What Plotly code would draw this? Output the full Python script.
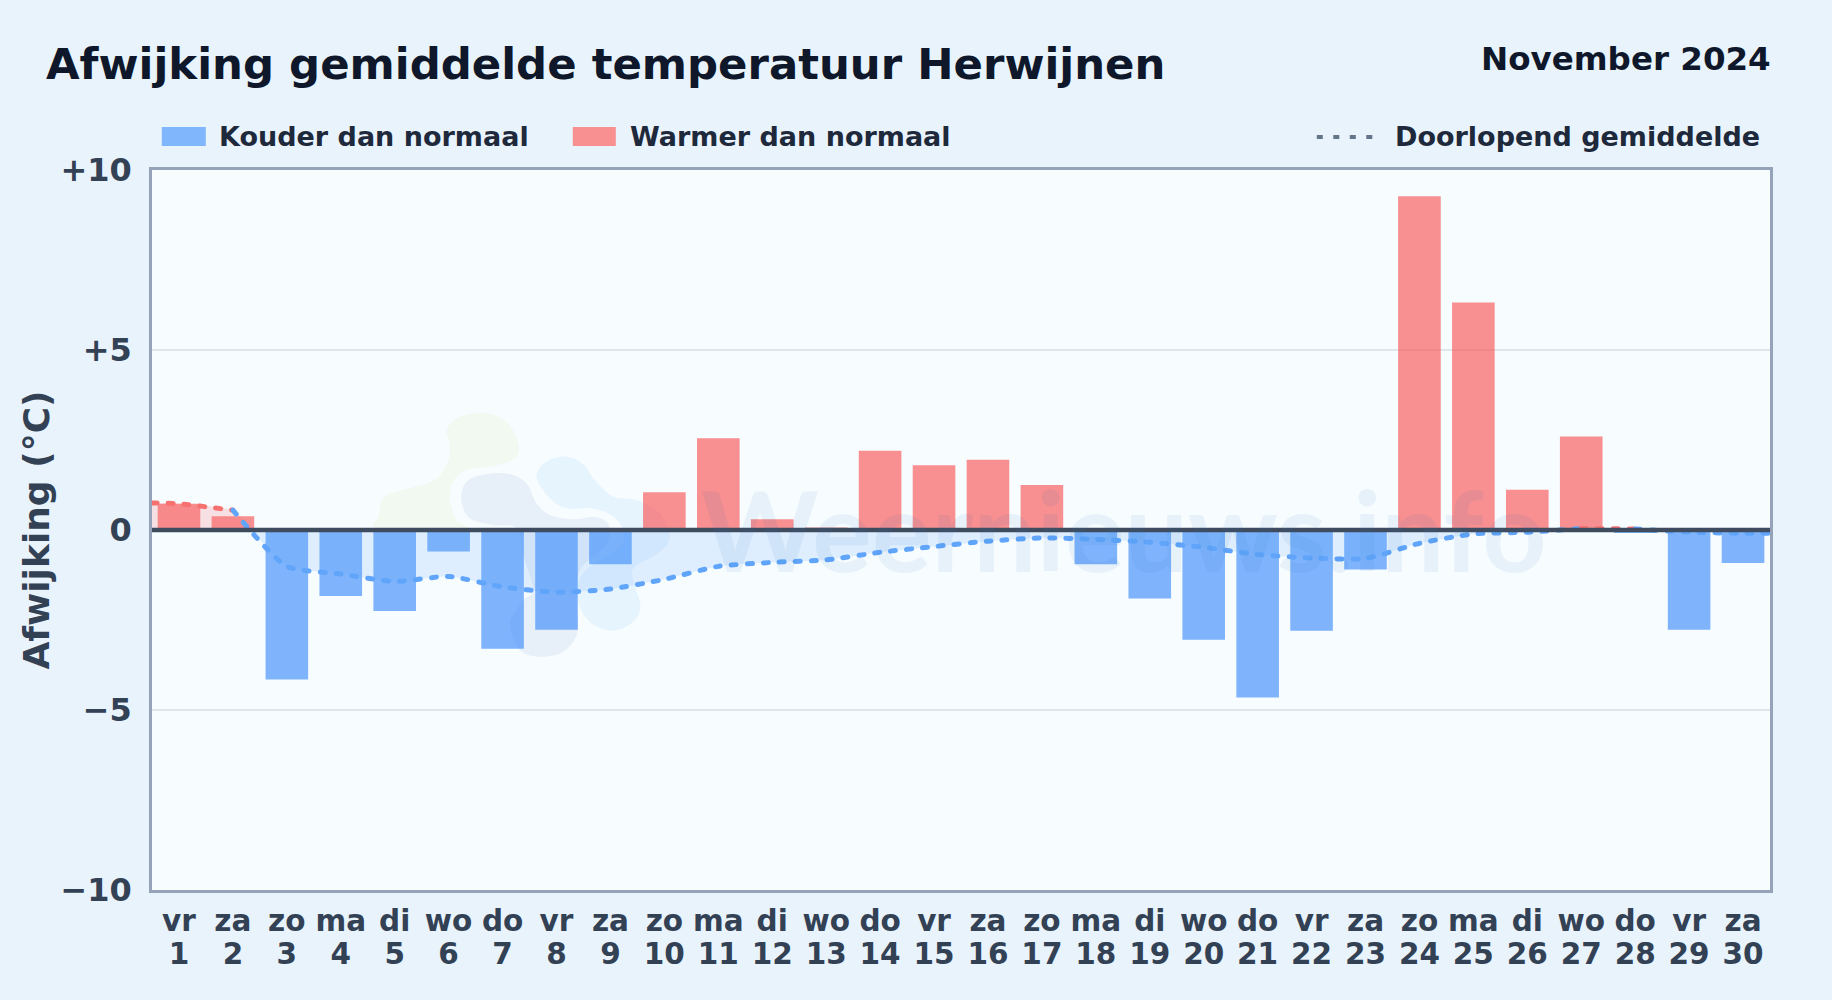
import plotly.graph_objects as go

W, H = 1832, 1000
L, R, T, B = 152.2, 1770.2, 170, 890

FONT = "DejaVu Sans"
weekdays = ["vr","za","zo","ma","di","wo","do","vr","za","zo","ma","di","wo","do","vr","za","zo","ma","di","wo","do","vr","za","zo","ma","di","wo","do","vr","za"]
days = list(range(1, 31))
anomaly = [0.73,0.38,-4.15,-1.83,-2.25,-0.60,-3.30,-2.77,-0.95,1.05,2.55,0.30,0.07,2.20,1.80,1.95,1.25,-0.95,-1.90,-3.05,-4.65,-2.80,-1.10,9.27,6.32,1.12,2.60,-0.08,-2.77,-0.92]
ytick_vals = [10,5,0,-5,-10]
ytick_text = ["+10","+5","0","\u22125","\u221210"]

# running mean, split by the colour of its segments
warm_x1 = [0.5, 1, 2]
warm_y1 = [0.75, 0.73, 0.55]
cold_x1 = [2,3,4,5,6,7,8,9,10,11,12,13,14,15,16,17,18,19,20,21,22,23,24,25,26,27]
cold_y1 = [0.55,-1.01,-1.22,-1.43,-1.29,-1.58,-1.73,-1.64,-1.37,-1.01,-0.90,-0.83,-0.62,-0.46,-0.31,-0.22,-0.26,-0.34,-0.48,-0.68,-0.78,-0.79,-0.37,-0.11,-0.06,0.04]
warm_x2 = [27, 28]
warm_y2 = [0.04, 0.03]
cold_x2 = [28, 29, 30, 30.5]
cold_y2 = [0.03, -0.06, -0.09, -0.09]
# pale band between the running mean and zero
warm_fill_x = [0.5, 1, 2, 2.35]
warm_fill_y = [0.75, 0.73, 0.55, 0]
cold_fill_x = [2.35, 3,4,5,6,7,8,9,10,11,12,13,14,15,16,17,18,19,20,21,22,23,24,25,26,26.8]
cold_fill_y = [0, -1.01,-1.22,-1.43,-1.29,-1.58,-1.73,-1.64,-1.37,-1.01,-0.90,-0.83,-0.62,-0.46,-0.31,-0.22,-0.26,-0.34,-0.48,-0.68,-0.78,-0.79,-0.37,-0.11,-0.06,0]

COLD_BAR = "rgba(59,140,250,0.64)"
WARM_BAR = "rgba(249,84,84,0.65)"
COLD_LINE = "#60a5fa"
WARM_LINE = "#f87171"
INK = "#334155"

def px(x): return (x - L) / (R - L)
def py(y): return (B - y) / (B - T)

def blob(points, fill):
    """Closed Catmull-Rom path through zoom-crop points, in paper coordinates."""
    pts = [(360 + a / 3, 390 + b / 3) for a, b in points]
    n = len(pts)
    d = f"M {px(pts[0][0]):.5f} {py(pts[0][1]):.5f}"
    for i in range(n):
        p0, p1, p2, p3 = pts[i - 1], pts[i], pts[(i + 1) % n], pts[(i + 2) % n]
        c1 = (p1[0] + (p2[0] - p0[0]) / 6, p1[1] + (p2[1] - p0[1]) / 6)
        c2 = (p2[0] - (p3[0] - p1[0]) / 6, p2[1] - (p3[1] - p1[1]) / 6)
        d += f" C {px(c1[0]):.5f} {py(c1[1]):.5f} {px(c2[0]):.5f} {py(c2[1]):.5f} {px(p2[0]):.5f} {py(p2[1]):.5f}"
    d += " Z"
    return dict(type="path", xref="paper", yref="paper", path=d, fillcolor=fill, line_width=0, layer="below")

green_blob = [(58,375),(75,320),(150,295),(225,270),(265,215),(270,160),(260,125),(290,85),(370,68),(440,95),(475,160),(465,205),(400,228),(320,240),(280,275),(270,330),(290,390),(310,418),(60,418)]
grey_blob = [(305,330),(320,275),(380,252),(450,252),(500,280),(530,340),(570,375),(640,388),(710,382),(750,410),(735,470),(660,540),(652,640),(652,730),(610,785),(540,800),(480,780),(450,700),(492,630),(520,600),(492,500),(470,415),(400,405),(330,385)]
blue_blob = [(530,260),(560,215),(620,200),(670,222),(705,270),(760,320),(830,330),(900,370),(930,440),(895,490),(825,530),(820,570),(842,650),(815,700),(755,722),(695,700),(660,650),(655,580),(690,530),(780,470),(790,420),(755,375),(690,355),(620,355),(570,325)]

shapes = [
    blob(green_blob, "#f2f9f1"),
    blob(grey_blob, "#e7eff8"),
    blob(blue_blob, "#e6f4fe"),
    # zero line above everything
    dict(type="line", xref="paper", yref="y", x0=0, x1=1, y0=0, y1=0, line=dict(color="#3f4c60", width=4.5), layer="above"),
    # custom legend swatches
    dict(type="rect", xref="paper", yref="paper", x0=px(162), x1=px(206), y0=py(146), y1=py(127), fillcolor="#80b6fb", line_width=0),
    dict(type="rect", xref="paper", yref="paper", x0=px(573), x1=px(616), y0=py(146), y1=py(127), fillcolor="#f88f90", line_width=0),
    dict(type="line", xref="paper", yref="paper", x0=px(1317), x1=px(1374), y0=py(137), y1=py(137), line=dict(color="#64748b", width=4, dash="6px,10.5px")),
]

def text(x, y, s, size, color, anchor="left", weight="bold", family=FONT):
    return dict(xref="paper", yref="paper", x=px(x), y=py(y), text=s, showarrow=False,
                xanchor=anchor, yanchor="middle", font=dict(family=family, size=size, color=color, weight=weight))

annotations = [
    text(44, 64, "Afwijking gemiddelde temperatuur Herwijnen", 43.4, "#0f172a"),
    text(1773, 59, "November 2024", 32.5, "#0f172a", anchor="right"),
    text(217, 137, "Kouder dan normaal", 27, "#1e293b"),
    text(628, 137, "Warmer dan normaal", 27, "#1e293b"),
    text(1393, 137, "Doorlopend gemiddelde", 27, "#1e293b"),
    text(1124, 528, "Weernieuws.info", 112, "rgba(40,110,190,0.08)", anchor="center", weight="bold", family="Lato"),
]

fig = go.Figure()
for xs, ys, c in [(warm_fill_x, warm_fill_y, "rgba(248,113,113,0.20)"), (cold_fill_x, cold_fill_y, "rgba(96,165,250,0.16)")]:
    fig.add_trace(go.Scatter(x=xs, y=ys, mode="none", fill="tozeroy", fillcolor=c, showlegend=False, hoverinfo="skip",
                             line=dict(shape="spline", smoothing=0.6)))
fig.add_trace(go.Bar(x=days, y=anomaly, width=0.79,
                     marker=dict(color=[COLD_BAR if v < 0 else WARM_BAR for v in anomaly], line_width=0),
                     showlegend=False))
for xs, ys, c in [(warm_x1, warm_y1, WARM_LINE), (cold_x1, cold_y1, COLD_LINE), (warm_x2, warm_y2, WARM_LINE), (cold_x2, cold_y2, COLD_LINE)]:
    fig.add_trace(go.Scatter(x=xs, y=ys, mode="lines", showlegend=False, cliponaxis=True,
                             line=dict(color=c, width=5, dash="5px,11px", shape="spline", smoothing=0.6)))
# invisible carrier for the second row of x tick labels
fig.add_trace(go.Scatter(x=days, y=[None] * 30, xaxis="x2", mode="lines", showlegend=False, hoverinfo="skip"))

fig.update_layout(
    width=W, height=H, margin=dict(l=L, r=W - R, t=T, b=H - B),
    paper_bgcolor="#e8f3fc", plot_bgcolor="#f7fcff",
    shapes=shapes, annotations=annotations, showlegend=False, barmode="overlay",
    font=dict(family=FONT, color=INK),
    xaxis2=dict(overlaying="x", side="bottom", anchor="y", range=[0.5, 30.5], tickmode="array", tickvals=days,
                ticktext=[str(d) for d in days], ticklabelstandoff=43,
                tickfont=dict(family=FONT, size=29.5, color=INK, weight="bold"), tickangle=0,
                showgrid=False, zeroline=False, showline=False, ticks=""),
)
fig.layout.xaxis.update(range=[0.5, 30.5], tickmode="array", tickvals=days, ticktext=weekdays, ticklabelstandoff=3,
                 tickfont=dict(family=FONT, size=29.5, color=INK, weight="bold"), tickangle=0,
                 showgrid=False, zeroline=False, showline=True, mirror=True, linecolor="#94a3b8", linewidth=2.5, ticks="")
fig.update_yaxes(range=[-10, 10], tickmode="array", tickvals=ytick_vals, ticktext=ytick_text,
                 tickfont=dict(family=FONT, size=32, color=INK, weight="bold"), ticklabelstandoff=11,
                 showgrid=True, gridcolor="#dfe6ec", gridwidth=2, zeroline=False,
                 showline=True, mirror=True, linecolor="#94a3b8", linewidth=2.5, ticks="",
                 title=dict(text="Afwijking (\u00b0C)", standoff=0, font=dict(family=FONT, size=36, color=INK, weight="bold")))

post = """
document.body.style.margin='0';
document.querySelectorAll('.js-line').forEach(p=>{p.style.strokeLinecap='round';});
"""
fig.write_html("out.html", post_script=post, config=dict(displayModeBar=False))
